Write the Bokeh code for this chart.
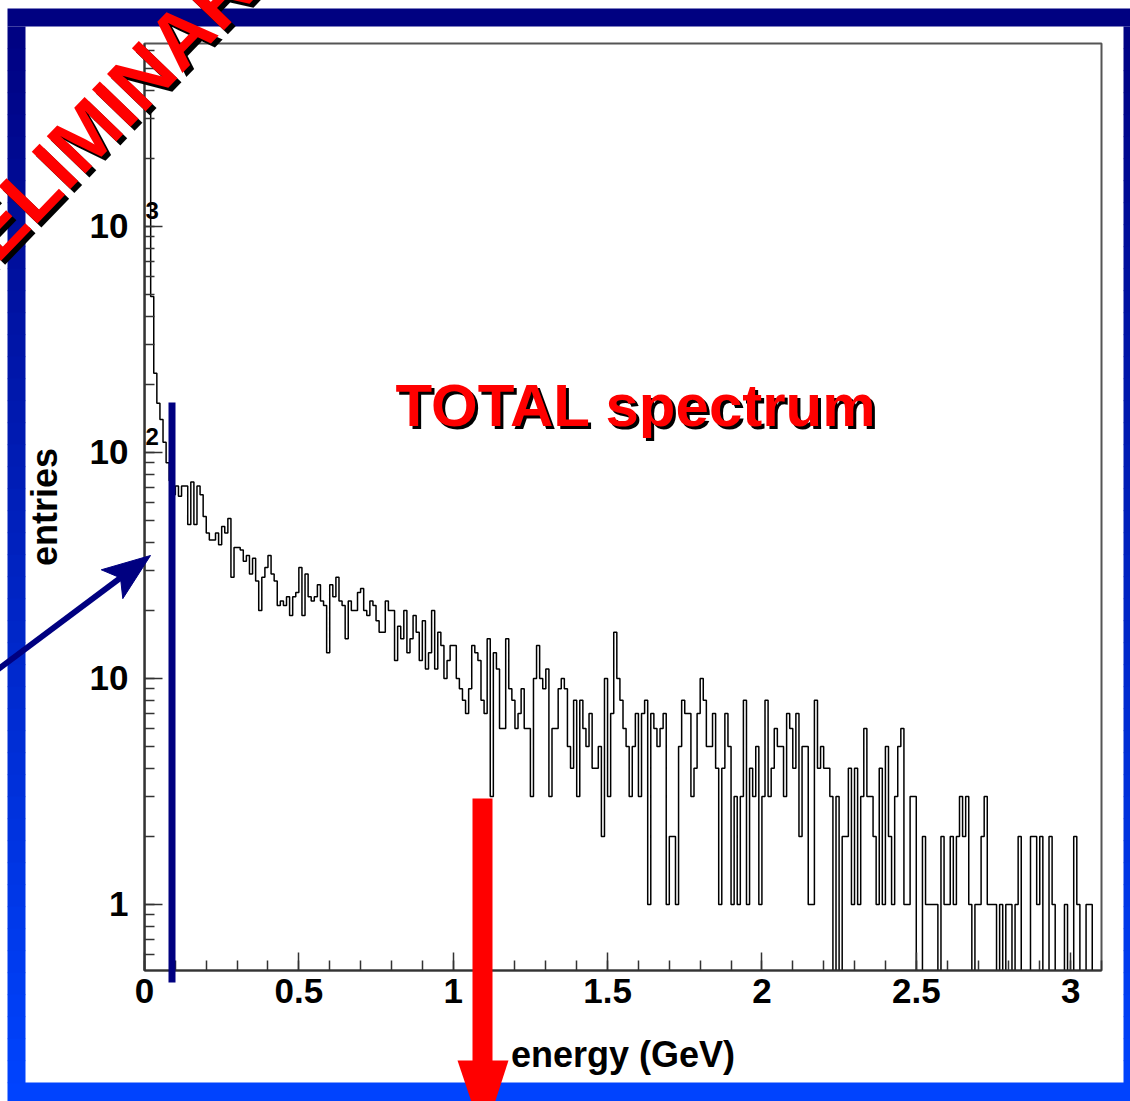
import numpy as np
from bokeh.plotting import figure
from bokeh.models import Range1d, LogTicker, SingleIntervalTicker, LinearScale
from bokeh.core.properties import value
from bokeh.embed import file_html
from bokeh.resources import INLINE

# ---------------- data (bin contents, 0.01 GeV bins, 0 - 3.1 GeV) ----------------
E_MIN = 0.0
E_MAX = 3.1
BIN_WIDTH = 0.01

counts_0_to_1 = [
    3300, 3200, 490, 224, 165, 140, 111, 90, 75, 65,
    71, 64, 71, 71, 48, 74, 48, 71, 65, 52,
    44, 41, 41, 44, 39, 47, 44, 51, 28, 38,
    38, 37, 33, 35, 29, 34, 27, 20, 28, 31,
    35, 29, 27, 21, 22, 21, 23, 19, 23, 24,
    31, 19, 29, 23, 22, 23, 26, 22, 21, 13,
    26, 23, 28, 22, 21, 15, 22, 20, 20, 24,
    25, 20, 19, 22, 21, 18, 16, 16, 22, 20,
    20, 12, 17, 15, 20, 13, 15, 19, 16, 12,
    18, 11, 13, 20, 11, 16, 14, 10, 12, 14,
]
counts_1_to_2 = [
    14, 10, 9, 8, 7, 9, 14, 13, 12, 8,
    7, 15, 3, 13, 11, 6, 6, 15, 9, 8,
    6, 7, 9, 6, 6, 3, 10, 14, 10, 9,
    11, 3, 6, 6, 9, 10, 9, 5, 4, 8,
    3, 8, 6, 5, 7, 4, 4, 5, 2, 10,
    3, 7, 16, 10, 8, 6, 5, 3, 5, 7,
    3, 7, 8, 1, 7, 6, 5, 6, 7, 1,
    2, 2, 1, 5, 8, 7, 7, 3, 4, 7,
    10, 8, 5, 5, 7, 4, 1, 4, 7, 5,
    1, 3, 1, 3, 8, 1, 4, 3, 5, 1,
]
counts_2_to_3p1 = [
    3, 8, 3, 4, 6, 5, 5, 3, 7, 6,
    4, 7, 2, 5, 5, 1, 1, 8, 4, 5,
    4, 4, 3, 0, 3, 0, 2, 2, 4, 1,
    4, 1, 3, 6, 3, 3, 2, 1, 4, 1,
    5, 2, 1, 3, 5, 6, 1, 1, 3, 3,
    0, 0, 2, 1, 1, 1, 1, 0, 2, 1,
    1, 2, 1, 2, 3, 2, 3, 1, 0, 1,
    1, 2, 3, 1, 1, 1, 0, 1, 0, 1,
    1, 0, 1, 2, 0, 0, 0, 2, 2, 1,
    2, 0, 0, 2, 1, 0, 0, 0, 1, 0,
    0, 2, 1, 0, 0, 1, 1, 0, 0, 0,
]

y_tick_labels = {1: "1", 10: "10", 100: "10", 1000: "10"}
y_tick_exponents = ["2", "3"]
y_exponent_at = [100, 1000]

counts = np.array(counts_0_to_1 + counts_1_to_2 + counts_2_to_3p1, dtype=float)
edges = E_MIN + BIN_WIDTH * np.arange(len(counts) + 1)

Y_MIN, Y_MAX = 0.51, 6450.0
y_floor = 0.3  # empty bins are drawn down past the bottom of the log frame
vals = np.where(counts > 0, counts, y_floor)
xs = np.concatenate([[edges[0]], np.repeat(edges, 2)[1:-1], [edges[-1]]])
ys = np.concatenate([[y_floor], np.repeat(vals, 2), [y_floor]])

# ---------------- figure ----------------
W, H = 1130, 1101
FL, FR, FT, FB = 144, 1101, 43, 970   # frame edges in window pixels

p = figure(width=W, height=H, x_range=Range1d(E_MIN, E_MAX), y_range=Range1d(Y_MIN, Y_MAX),
           y_axis_type="log", output_backend="svg", toolbar_location=None,
           min_border_left=FL, min_border_right=W - FR, min_border_top=FT, min_border_bottom=H - FB)
p.background_fill_color = "white"
p.border_fill_color = "white"
p.outline_line_color = "#555555"
p.outline_line_width = 2
p.xgrid.visible = False
p.ygrid.visible = False

# pixel-coordinate ranges (linear) for decorations
p.extra_x_ranges = {"px": Range1d(FL, FR)}
p.extra_y_ranges = {"px": Range1d(FB, FT)}
p.extra_x_scales = {"px": LinearScale()}
p.extra_y_scales = {"px": LinearScale()}

LABEL_FONT = "Liberation Sans"

p.xaxis.ticker = SingleIntervalTicker(interval=0.5, num_minor_ticks=5)
p.yaxis.ticker = LogTicker(num_minor_ticks=10)
p.yaxis.major_label_overrides = y_tick_labels
for ax in (p.xaxis, p.yaxis):
    ax.axis_line_color = "#333333"
    ax.axis_line_width = 2
    ax.major_tick_line_color = "#333333"
    ax.minor_tick_line_color = "#333333"
    ax.major_tick_line_width = 1.5
    ax.minor_tick_line_width = 1.5
    ax.major_tick_in = 18
    ax.major_tick_out = 0
    ax.minor_tick_in = 10
    ax.minor_tick_out = 0
    ax.major_label_text_font = LABEL_FONT
    ax.major_label_text_font_style = "bold"
    ax.major_label_text_font_size = "35px"
    ax.major_label_text_color = "black"
    ax.axis_label_text_font = LABEL_FONT
    ax.axis_label_text_font_style = "bold"
    ax.axis_label_text_font_size = "36px"
    ax.axis_label_text_color = "black"

p.xaxis.axis_label = "energy (GeV)"
p.yaxis.axis_label = "entries"
p.xaxis.major_label_standoff = 8
p.yaxis.major_label_standoff = 16
p.xaxis.axis_label_standoff = 28
p.yaxis.axis_label_standoff = 22

# histogram
p.line(xs, ys, line_color="black", line_width=1.5)

# exponents of the y tick labels (ROOT style)
p.text(x=[E_MIN] * len(y_exponent_at), y=y_exponent_at, text=y_tick_exponents,
       x_offset=1, y_offset=-16, text_align="left", text_baseline="middle",
       text_font=value(LABEL_FONT), text_font_style="bold", text_font_size="24px",
       text_color="black")

# ---------------- decorations (window pixel coordinates) ----------------
def px(kw):
    kw.update(x_range_name="px", y_range_name="px", level="overlay")
    return kw

def grad(y):
    t = min(max((y - 8) / (1101 - 8), 0), 1)
    return "#%02x%02x%02x" % (0, int(round(68 * t)), int(round(128 + 127 * t)))

OUT_L, OUT_T, IN_L, IN_T, IN_R, IN_B = 7, 8, 25, 26, 1123, 1082
BIG = 1145
# top and bottom bands
p.quad(**px(dict(left=[OUT_L, OUT_L], right=[BIG, BIG], top=[OUT_T, IN_B], bottom=[IN_T, BIG],
                 fill_color=[grad(17), grad(1092)], line_color=None)))
# side bands with vertical gradient
n = 48
yb = np.linspace(IN_T, IN_B, n + 1)
cols = [grad(0.5 * (yb[i] + yb[i + 1])) for i in range(n)]
p.quad(**px(dict(left=[OUT_L] * n + [IN_R] * n, right=[IN_L] * n + [BIG] * n,
                 top=list(yb[:-1]) * 2, bottom=list(yb[1:] + 0.6) * 2,
                 fill_color=cols * 2, line_color=None)))

# red arrow
p.quad(**px(dict(left=[472], right=[492], top=[798], bottom=[1062], fill_color="red", line_color=None)))
p.patch(**px(dict(x=[457, 508, 483], y=[1060, 1060, 1137], fill_color="red", line_color=None)))

# navy cut line
p.quad(**px(dict(left=[168], right=[175], top=[402], bottom=[982], fill_color="#000080", line_color=None)))

# navy arrow
S = np.array([0.0, 667.0]); T = np.array([150.0, 555.0])
d = (T - S) / np.linalg.norm(T - S); nrm = np.array([-d[1], d[0]])
L_head, w_head = 48.0, 18.0
notch = T - 0.78 * L_head * d
c1 = T - L_head * d + w_head * nrm
c2 = T - L_head * d - w_head * nrm
p.line(**px(dict(x=[S[0] - 10 * d[0], notch[0] + 2 * d[0]], y=[S[1] - 10 * d[1], notch[1] + 2 * d[1]],
                 line_color="#000080", line_width=6)))
p.patch(**px(dict(x=[T[0], c1[0], notch[0], c2[0]], y=[T[1], c1[1], notch[1], c2[1]],
                  fill_color="#000080", line_color="#000080", line_width=1)))

# PRELIMINARY (rotated, with shadow)
for dx, col in ((4, "black"), (0, "red")):
    p.text(**px(dict(x=[88 + dx], y=[131 + dx], text=["PRELIMINARY"], angle=46, angle_units="deg",
                     text_align="center", text_baseline="middle", text_font=value(LABEL_FONT),
                     text_font_style="bold", text_font_size="78px", text_color=col)))

# TOTAL spectrum (with shadow)
for dx, col in ((3, "black"), (0, "red")):
    p.text(**px(dict(x=[395 + dx], y=[405 + dx], text=["TOTAL spectrum"],
                     text_align="left", text_baseline="middle", text_font=value(LABEL_FONT),
                     text_font_style="bold", text_font_size="60px", text_color=col)))

open("out.html", "w").write(file_html(p, INLINE))
